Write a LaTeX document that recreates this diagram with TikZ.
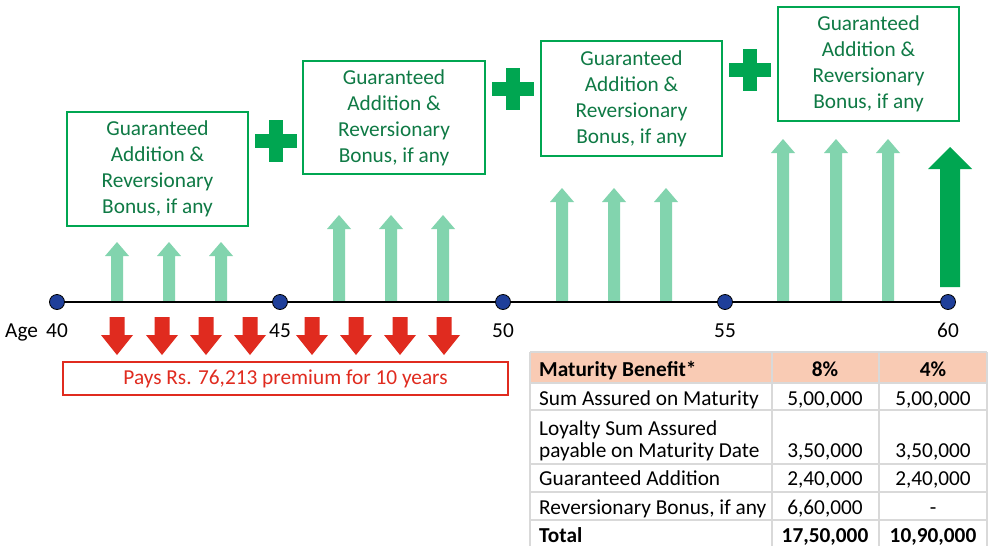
\documentclass[tikz,border=0pt]{standalone}
\usepackage{fontspec}
\setmainfont{Carlito}
\definecolor{boxgreen}{HTML}{00A651}
\definecolor{txtgreen}{HTML}{0F7A45}
\definecolor{lightgreen}{HTML}{82D4AE}
\definecolor{arrred}{HTML}{E02B1F}
\definecolor{dotblue}{HTML}{1F3F9A}
\definecolor{gridgray}{HTML}{D9D9D9}
\definecolor{peach}{HTML}{F9CBB4}
\newcommand\blockup[7]{\fill[#1] (#2-#5,#3) -- (#2-#5,#4+#7) -- (#2-#6,#4+#7) -- (#2,#4) -- (#2+#6,#4+#7) -- (#2+#5,#4+#7) -- (#2+#5,#3) -- cycle;}
\newcommand\blockdown[7]{\fill[#1] (#2-#5,#3) -- (#2-#5,#4-#7) -- (#2-#6,#4-#7) -- (#2,#4) -- (#2+#6,#4-#7) -- (#2+#5,#4-#7) -- (#2+#5,#3) -- cycle;}
\newcommand\plussign[2]{\fill[boxgreen] (#1-7,#2-21) rectangle (#1+7,#2+21); \fill[boxgreen] (#1-21,#2-7) rectangle (#1+21,#2+7);}
\newcommand\tfont{\fontsize{21.3}{23}\selectfont}
\begin{document}
\begin{tikzpicture}[x=1pt,y=-1pt,
  gbox/.style={draw=boxgreen,line width=2pt,text=txtgreen,align=center,inner sep=0pt,font=\fontsize{21.3}{26}\selectfont},
  dot/.style={circle,draw=black,fill=dotblue,line width=0.8pt,minimum size=15pt,inner sep=0pt},
  agelbl/.style={font=\tfont,inner sep=0pt},
  tcell/.style={font=\tfont,inner sep=0pt,text=black},
  tbold/.style={font=\tfont\bfseries,inner sep=0pt,text=black}]
\useasboundingbox (0,0) rectangle (992,546);
\fill[white] (0,0) rectangle (992,546);
% green boxes
\node[gbox,minimum width=181pt,minimum height=114pt] (b1) at (157.5,169) {Guaranteed\\Addition \&\\Reversionary\\Bonus, if any};
\node[gbox,minimum width=182pt,minimum height=113pt] (b2) at (394,117.5) {Guaranteed\\Addition \&\\Reversionary\\Bonus, if any};
\node[gbox,minimum width=181pt,minimum height=115pt] (b3) at (631.5,98.5) {Guaranteed\\Addition \&\\Reversionary\\Bonus, if any};
\node[gbox,minimum width=181pt,minimum height=114pt] (b4) at (868.5,64) {Guaranteed\\Addition \&\\Reversionary\\Bonus, if any};
% plus signs
\plussign{276}{141}
\plussign{513}{89}
\plussign{750}{70}
% light green arrows
\foreach \x in {117,169,221} {\blockup{lightgreen}{\x}{301}{242}{6}{12}{14}}
\foreach \x in {339,391,443} {\blockup{lightgreen}{\x}{301}{215}{6}{12}{14}}
\foreach \x in {562,614,666} {\blockup{lightgreen}{\x}{301}{188}{6}{12}{14}}
\foreach \x in {783,836,888} {\blockup{lightgreen}{\x}{301}{139}{6}{12}{14}}
% dark green arrow
\blockup{boxgreen}{950}{287}{147}{10}{22}{22}
% timeline
\coordinate (p40) at (57,302);
\coordinate (p45) at (280,302);
\coordinate (p50) at (503,302);
\coordinate (p55) at (725,302);
\coordinate (p60) at (948,302);
\draw[line width=1.8pt] (p40) -- (p60);
\node[dot] (d40) at (p40) {};
\node[dot] (d45) at (p45) {};
\node[dot] (d50) at (p50) {};
\node[dot] (d55) at (p55) {};
\node[dot] (d60) at (p60) {};
\node[agelbl,anchor=base west] (age) at (5,337) {Age};
\node[agelbl,anchor=base] (l40) at (57,337) {40};
\node[agelbl,anchor=base] (l45) at (280,337) {45};
\node[agelbl,anchor=base] (l50) at (503,337) {50};
\node[agelbl,anchor=base] (l55) at (725,337) {55};
\node[agelbl,anchor=base] (l60) at (948,337) {60};
% red arrows
\foreach \x in {117,162,206,250,312,356,400,444} {\blockdown{arrred}{\x}{317}{355}{7.5}{16}{20}}
% red box
\node[draw=arrred,line width=2pt,minimum width=445pt,minimum height=33pt,inner sep=0pt,text=arrred,font=\tfont] (pay) at (285.5,378.5) {Pays Rs. 76,213 premium for 10 years};
% table
\fill[peach] (530,352) rectangle (987,383);
\draw[gridgray,line width=2.5pt] (530,352) -- (987,352) (530,352) -- (530,546) (987,352) -- (987,546)
  (772,352) -- (772,546) (879,352) -- (879,546)
  (530,383) -- (987,383) (530,410) -- (987,410) (530,464) -- (987,464) (530,492) -- (987,492) (530,520) -- (987,520);
\node[tbold,anchor=base west] (h1) at (539,376) {Maturity Benefit*};
\node[tbold,anchor=base] (h2) at (825,376) {8\%};
\node[tbold,anchor=base] (h3) at (933,376) {4\%};
\node[tcell,anchor=base west] (r1) at (539,405) {Sum Assured on Maturity};
\node[tcell,anchor=base] (r1a) at (825,405) {5,00,000};
\node[tcell,anchor=base] (r1b) at (933,405) {5,00,000};
\node[tcell,anchor=base west] (r2) at (539,435) {Loyalty Sum Assured};
\node[tcell,anchor=base west] (r2l) at (539,457) {payable on Maturity Date};
\node[tcell,anchor=base] (r2a) at (825,457) {3,50,000};
\node[tcell,anchor=base] (r2b) at (933,457) {3,50,000};
\node[tcell,anchor=base west] (r3) at (539,485) {Guaranteed Addition};
\node[tcell,anchor=base] (r3a) at (825,485) {2,40,000};
\node[tcell,anchor=base] (r3b) at (933,485) {2,40,000};
\node[tcell,anchor=base west] (r4) at (539,514) {Reversionary Bonus, if any};
\node[tcell,anchor=base] (r4a) at (825,514) {6,60,000};
\node[tcell,anchor=base] (r4b) at (933,514) {-};
\node[tbold,anchor=base west] (t1) at (539,542) {Total};
\node[tbold,anchor=base] (t2) at (825,542) {17,50,000};
\node[tbold,anchor=base] (t3) at (933,542) {10,90,000};
\end{tikzpicture}
\end{document}
